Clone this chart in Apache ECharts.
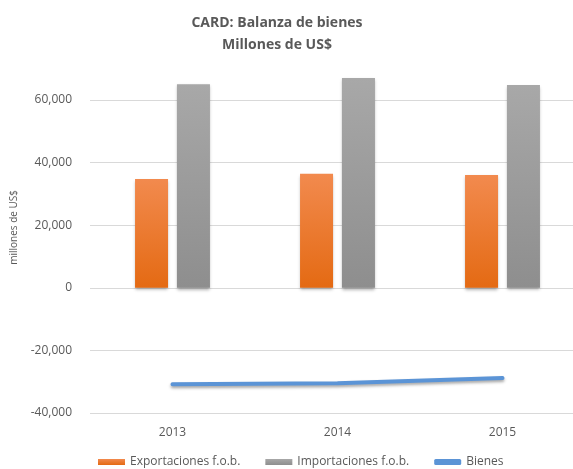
<!DOCTYPE html>
<html><head><meta charset="utf-8">
<script src="https://cdn.jsdelivr.net/npm/echarts@6/dist/echarts.min.js"></script>
<style>html,body{margin:0;padding:0;background:#fff}#c{width:573px;height:469px}</style>
</head><body><div id="c"></div>
<script>
const categories = ['2013', '2014', '2015'];
const exportaciones = [34800, 36400, 36000];
const importaciones = [65000, 67000, 64800];
const bienes = [-30800, -30500, -28800];
const yTicks = { min: -40000, max: 60000, interval: 20000 };

const chart = echarts.init(document.getElementById('c'));
const font = 'Open Sans';
chart.setOption({
  backgroundColor: '#fff',
  animation: false,
  textStyle: { fontFamily: font },
  title: {
    text: 'CARD: Balanza de bienes\nMillones de US$',
    left: 272, top: 7, textAlign: 'center',
    textStyle: { fontFamily: font, fontSize: 14, fontWeight: 'bold', color: '#595959', lineHeight: 22 }
  },
  graphic: [{
    type: 'text', left: 9, top: 190, rotation: Math.PI / 2,
    style: { text: 'millones de US$', fill: '#595959', font: '10px ' + font }
  }],
  legend: {
    top: 451, left: 93, itemWidth: 27, itemHeight: 6, itemGap: 25,
    textStyle: { color: '#595959', fontSize: 12, fontFamily: font },
    data: [
      { name: 'Exportaciones f.o.b.', icon: 'rect' },
      { name: 'Importaciones f.o.b.', icon: 'rect' },
      { name: 'Bienes', icon: 'roundRect' }
    ]
  },
  grid: { left: 90, width: 495, top: 100, bottom: 56, containLabel: false, outerBoundsMode: 'none' },
  xAxis: {
    type: 'category', data: categories,
    axisLine: { show: false }, axisTick: { show: false },
    axisLabel: { color: '#595959', fontSize: 12, margin: 14 }
  },
  yAxis: {
    type: 'value', min: yTicks.min, max: yTicks.max, interval: yTicks.interval,
    axisLine: { show: false }, axisTick: { show: false },
    axisLabel: {
      color: '#595959', fontSize: 12, margin: 18,
      formatter: v => v.toLocaleString('en-US')
    },
    splitLine: { lineStyle: { color: '#D9D9D9', width: 1 } }
  },
  series: [
    {
      name: 'Exportaciones f.o.b.', type: 'bar', data: exportaciones, barWidth: 33, barGap: '27%', clip: false,
      itemStyle: {
        color: new echarts.graphic.LinearGradient(0, 0, 0, 1, [
          { offset: 0, color: '#F28A4E' }, { offset: 1, color: '#E46A13' }]),
        shadowColor: 'rgba(0,0,0,0.3)', shadowBlur: 3, shadowOffsetY: 2
      }
    },
    {
      name: 'Importaciones f.o.b.', type: 'bar', data: importaciones, barWidth: 33, clip: false,
      itemStyle: {
        color: new echarts.graphic.LinearGradient(0, 0, 0, 1, [
          { offset: 0, color: '#A8A8A8' }, { offset: 1, color: '#8E8E8E' }]),
        shadowColor: 'rgba(0,0,0,0.3)', shadowBlur: 3, shadowOffsetY: 2
      }
    },
    {
      name: 'Bienes', type: 'line', data: bienes, symbol: 'none',
      lineStyle: { color: '#5B94D6', width: 4, cap: 'round',
        shadowColor: 'rgba(0,0,0,0.35)', shadowBlur: 3, shadowOffsetY: 2 },
      itemStyle: { color: '#5B94D6' }
    }
  ]
});
</script></body></html>
